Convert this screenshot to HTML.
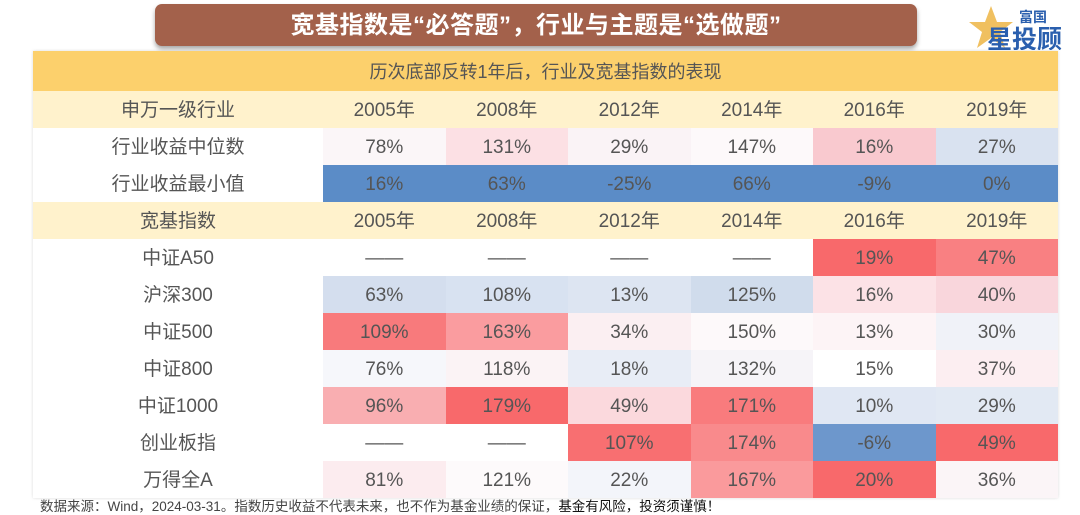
<!DOCTYPE html>
<html><head><meta charset="utf-8"><style>
*{margin:0;padding:0;box-sizing:border-box}
body{width:1080px;height:514px;background:#fff;position:relative;overflow:hidden;font-family:"Liberation Sans","Noto Sans CJK SC",sans-serif;color:#555}
.title{position:absolute;left:155px;top:4px;width:762px;height:42px;background:#a3614b;border-radius:7px;box-shadow:0 3px 5px rgba(0,0,0,.35);color:#fff;font-weight:bold;font-size:24px;text-align:center;line-height:44px;letter-spacing:0.5px}
.logo{position:absolute;left:963px;top:4px;width:110px;height:46px}
.tbl{position:absolute;left:33px;top:51px;width:1025px;box-shadow:0 0 3px rgba(0,0,0,.15)}
.band{height:40px;background:#fcd06c;text-align:center;line-height:42px;font-size:18px;color:#555}
.row{display:flex;height:37px}
.row div{line-height:39px;text-align:center;font-size:19px}
.row div:first-child{width:290px}
.row div+div{width:122.5px}
.hd{background:#fff2cc}
.foot{position:absolute;left:40px;top:495px;font-size:13.5px;color:#444}
</style></head><body>
<div class="title">宽基指数是“必答题”，行业与主题是“选做题”</div>
<svg class="logo" viewBox="0 0 110 46"><polygon points="28,2 34,18 50,18 37,28 42,44 28,34 14,44 19,28 6,18 22,18" fill="#f0c060"/>
<text x="56" y="18" font-size="14" font-weight="bold" fill="#2a5fae" font-family="Noto Sans CJK SC,sans-serif">富国</text>
<text x="24" y="44" font-size="25" font-weight="bold" fill="#2a5fae" font-family="Noto Sans CJK SC,sans-serif">星投顾</text></svg>
<div class="tbl">
<div class="band">历次底部反转1年后，行业及宽基指数的表现</div>
<div class="row hd"><div>申万一级行业</div><div>2005年</div><div>2008年</div><div>2012年</div><div>2014年</div><div>2016年</div><div>2019年</div></div>
<div class="row"><div>行业收益中位数</div><div style="background:#fbf6f8">78%</div><div style="background:#fce0e4">131%</div><div style="background:#faf3f6">29%</div><div style="background:#fdf9fa">147%</div><div style="background:#f9c9cf">16%</div><div style="background:#d9e2f0">27%</div></div>
<div class="row"><div>行业收益最小值</div><div style="background:#5b8cc7">16%</div><div style="background:#5b8cc7">63%</div><div style="background:#5b8cc7">-25%</div><div style="background:#5b8cc7">66%</div><div style="background:#5b8cc7">-9%</div><div style="background:#5b8cc7">0%</div></div>
<div class="row hd"><div>宽基指数</div><div>2005年</div><div>2008年</div><div>2012年</div><div>2014年</div><div>2016年</div><div>2019年</div></div>
<div class="row"><div>中证A50</div><div>——</div><div>——</div><div>——</div><div>——</div><div style="background:#f8696b">19%</div><div style="background:#f98082">47%</div></div>
<div class="row"><div>沪深300</div><div style="background:#d4deee">63%</div><div style="background:#d8e2f1">108%</div><div style="background:#dde5f2">13%</div><div style="background:#d0dcec">125%</div><div style="background:#fce2e6">16%</div><div style="background:#f9d6dc">40%</div></div>
<div class="row"><div>中证500</div><div style="background:#f87a7c">109%</div><div style="background:#fa9c9f">163%</div><div style="background:#fbeff2">34%</div><div style="background:#fdf9fa">150%</div><div style="background:#fdf4f6">13%</div><div style="background:#f0f2f8">30%</div></div>
<div class="row"><div>中证800</div><div style="background:#f6f7fb">76%</div><div style="background:#fbf3f5">118%</div><div style="background:#e8edf6">18%</div><div style="background:#f6f4f8">132%</div><div style="background:#fff">15%</div><div style="background:#fceef1">37%</div></div>
<div class="row"><div>中证1000</div><div style="background:#f9aeb1">96%</div><div style="background:#f8696b">179%</div><div style="background:#fbd9dd">49%</div><div style="background:#f97b7d">171%</div><div style="background:#e0e7f3">10%</div><div style="background:#e2e9f3">29%</div></div>
<div class="row"><div>创业板指</div><div>——</div><div>——</div><div style="background:#f86f71">107%</div><div style="background:#f98a8c">174%</div><div style="background:#6d97cc">-6%</div><div style="background:#f8696b">49%</div></div>
<div class="row"><div>万得全A</div><div style="background:#fcecef">81%</div><div style="background:#fdfafb">121%</div><div style="background:#f3f5fa">22%</div><div style="background:#fa9a9c">167%</div><div style="background:#f8696b">20%</div><div style="background:#fbf5f7">36%</div></div>
</div>
<div class="foot">数据来源：Wind，2024-03-31。指数历史收益不代表未来，也不作为基金业绩的保证，<span style="color:#111">基金有风险，投资须谨慎！</span></div>
</body></html>
